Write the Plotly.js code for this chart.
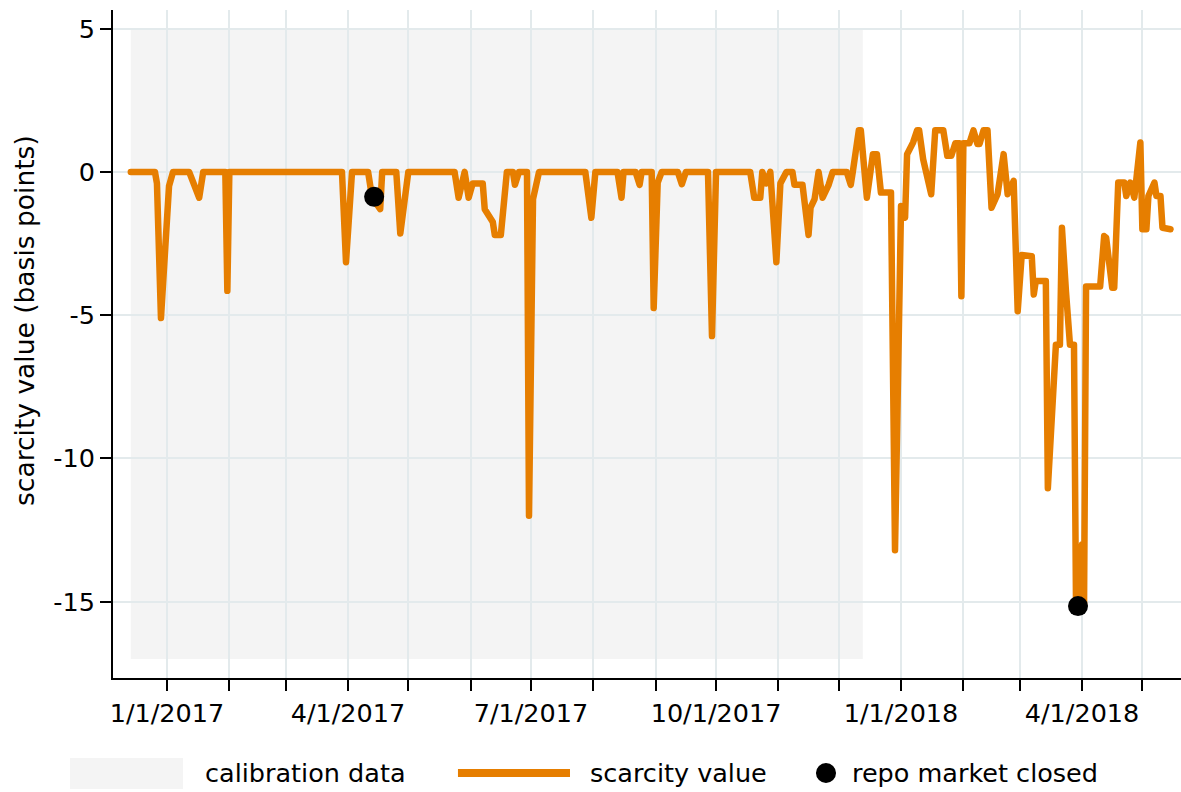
<!DOCTYPE html>
<html>
<head>
<meta charset="utf-8">
<script src="https://cdn.plot.ly/plotly-3.0.1.min.js"></script>
<style>html,body{margin:0;padding:0;background:#fff;}#chart{width:1181px;height:792px;}
.scatterlayer path.js-line{stroke-linejoin:round;stroke-linecap:round;}</style>
</head>
<body>
<div id="chart"></div>
<script>
// ---- data ----
const dates = [
'2016-12-14','2016-12-26','2016-12-27','2016-12-29','2017-01-02','2017-01-04','2017-01-12','2017-01-17','2017-01-19','2017-01-30',
'2017-01-31','2017-02-01','2017-03-29','2017-03-31','2017-04-03','2017-04-11','2017-04-13','2017-04-17','2017-04-18','2017-04-25',
'2017-04-27','2017-05-01','2017-05-24','2017-05-26','2017-05-29','2017-05-31','2017-06-02','2017-06-07','2017-06-08','2017-06-11',
'2017-06-12','2017-06-13','2017-06-16','2017-06-19','2017-06-22','2017-06-23','2017-06-25','2017-06-29','2017-06-30','2017-07-02',
'2017-07-05','2017-07-28','2017-07-31','2017-08-02','2017-08-13','2017-08-15','2017-08-16','2017-08-22','2017-08-24','2017-08-25',
'2017-08-30','2017-08-31','2017-09-02','2017-09-04','2017-09-12','2017-09-14','2017-09-16','2017-09-27','2017-09-29','2017-10-01',
'2017-10-18','2017-10-20','2017-10-23','2017-10-24','2017-10-26','2017-10-28','2017-10-31','2017-11-02','2017-11-05','2017-11-08',
'2017-11-09','2017-11-13','2017-11-16','2017-11-17','2017-11-19','2017-11-21','2017-11-23','2017-11-26','2017-11-28','2017-12-05',
'2017-12-07','2017-12-08','2017-12-11','2017-12-12','2017-12-15','2017-12-18','2017-12-20','2017-12-22','2017-12-27','2017-12-29',
'2018-01-01','2018-01-03','2018-01-04','2018-01-07','2018-01-09','2018-01-10','2018-01-12','2018-01-16','2018-01-18','2018-01-22',
'2018-01-24','2018-01-26','2018-01-28','2018-01-30','2018-01-31','2018-02-01','2018-02-04','2018-02-06','2018-02-08','2018-02-09',
'2018-02-11','2018-02-13','2018-02-15','2018-02-18','2018-02-21','2018-02-23','2018-02-26','2018-02-28','2018-03-02','2018-03-07',
'2018-03-08','2018-03-09','2018-03-14','2018-03-15','2018-03-17','2018-03-19','2018-03-21','2018-03-22','2018-03-24','2018-03-26',
'2018-03-28','2018-03-29','2018-03-30','2018-04-01','2018-04-02','2018-04-03','2018-04-10','2018-04-12','2018-04-13','2018-04-16',
'2018-04-17','2018-04-19','2018-04-22','2018-04-23','2018-04-25','2018-04-27','2018-04-30','2018-05-01','2018-05-03','2018-05-04',
'2018-05-07','2018-05-08','2018-05-10','2018-05-11','2018-05-15'
];
const scarcity = [
0,0,-0.4,-5.1,-0.5,0,0,-0.9,0,0,
-4.15,0,0,-3.15,0,0,-0.9,-1.3,0,0,
-2.15,0,0,-0.9,0,-0.9,-0.4,-0.4,-1.3,-1.65,
-1.75,-2.2,-2.2,0,0,-0.45,0,0,-12.0,-0.95,
0,0,-1.6,0,0,-0.9,0,0,-0.45,0,
0,-4.75,-0.37,0,0,-0.43,0,0,-5.73,0,
0,-0.9,-0.9,0,-0.4,0,-3.15,-0.4,0,0,
-0.45,-0.45,-2.2,-1.25,-0.95,0,-0.9,-0.45,0,0,
-0.45,0,1.45,1.45,-0.9,0.62,0.62,-0.72,-0.72,-13.2,
-1.19,-1.6,0.62,1.03,1.45,1.45,0.44,-0.78,1.45,1.45,
0.56,0.56,1.0,1.0,-4.34,1.0,1.0,1.45,0.97,0.97,
1.45,1.45,-1.25,-0.78,0.62,-0.78,-0.31,-4.86,-2.9,-2.94,
-4.28,-3.81,-3.81,-11.04,-8.0,-6.03,-6.03,-1.95,-4.16,-6.03,
-6.03,-15.1,-15.15,-13.0,-15.1,-4.0,-4.0,-2.24,-2.3,-4.04,
-4.04,-0.37,-0.37,-0.84,-0.37,-0.9,1.03,-2.0,-2.0,-0.84,
-0.37,-0.84,-0.84,-1.95,-2.0
];
const closedDates = ['2017-04-14','2018-03-30'];
const closedValues = [-0.87,-15.15];
const calibStart = '2016-12-14';
const calibEnd = '2017-12-13';
const calibLow = -17;
const calibHigh = 5;

const monthTicks = ['2017-01-01','2017-02-01','2017-03-01','2017-04-01','2017-05-01','2017-06-01','2017-07-01','2017-08-01',
  '2017-09-01','2017-10-01','2017-11-01','2017-12-01','2018-01-01','2018-02-01','2018-03-01','2018-04-01','2018-05-01'];
const monthTickText = ['1/1/2017','','','4/1/2017','','','7/1/2017','','','10/1/2017','','','1/1/2018','','','4/1/2018',''];
const yTicks = [5,0,-5,-10,-15];
const yTickText = ['5','0','-5','-10','-15'];

const legendLabels = ['calibration data','scarcity value','repo market closed'];
const yTitle = 'scarcity value (basis points)';

// ---- styles ----
const ORANGE = '#e67e00';
const FONT = 'DejaVu Sans, Liberation Sans, Arial, sans-serif';
const FS = 25.5;

const traces = [
  {x: dates, y: scarcity, type: 'scatter', mode: 'lines',
   line: {color: ORANGE, width: 6.5, shape: 'linear'}, showlegend: false, hoverinfo: 'skip'},
  {x: closedDates, y: closedValues, type: 'scatter', mode: 'markers',
   marker: {color: '#000', size: 20}, showlegend: false, hoverinfo: 'skip'}
];

const layout = {
  width: 1181, height: 792,
  margin: {l: 113, r: 0, t: 10, b: 114},
  paper_bgcolor: '#fff', plot_bgcolor: '#fff',
  font: {family: FONT, size: FS, color: '#000'},
  showlegend: false,
  xaxis: {
    type: 'date',
    range: ['2016-12-05 03:30', '2018-05-20 05:00'],
    tickmode: 'array', tickvals: monthTicks, ticktext: monthTickText,
    ticks: 'outside', ticklen: 11, tickwidth: 2, tickcolor: '#000',
    showgrid: true, gridcolor: '#e3eaec', gridwidth: 2,
    showline: true, linecolor: '#000', linewidth: 2,
    zeroline: false, tickfont: {family: FONT, size: FS, color: '#000'},
    fixedrange: true
  },
  yaxis: {
    range: [-17.66, 5.65],
    tickmode: 'array', tickvals: yTicks, ticktext: yTickText,
    ticks: 'outside', ticklen: 11, tickwidth: 2, tickcolor: '#000',
    showgrid: true, gridcolor: '#e3eaec', gridwidth: 2,
    showline: true, linecolor: '#000', linewidth: 2,
    zeroline: false, tickfont: {family: FONT, size: FS, color: '#000'},
    fixedrange: true
  },
  shapes: [
    {type: 'rect', layer: 'below', xref: 'x', yref: 'y', x0: calibStart, x1: calibEnd, y0: calibLow, y1: calibHigh,
     fillcolor: '#f4f4f4', line: {width: 0}},
    // legend swatches
    {type: 'rect', xref: 'paper', yref: 'paper', x0: -0.0403, x1: 0.0655, y0: -0.1662, y1: -0.1198,
     fillcolor: '#f4f4f4', line: {width: 0}},
    {type: 'line', xref: 'paper', yref: 'paper', x0: 0.3230, x1: 0.4279, y0: -0.1422, y1: -0.1422,
     line: {color: ORANGE, width: 8}},
    {type: 'circle', xref: 'paper', yref: 'paper', x0: 0.6582, x1: 0.6770, y0: -0.1572, y1: -0.1272,
     fillcolor: '#000', line: {width: 0}}
  ],
  annotations: [
    {text: yTitle, xref: 'paper', yref: 'paper', x: -0.0824, y: 0.536, textangle: -90,
     showarrow: false, xanchor: 'center', yanchor: 'middle', font: {family: FONT, size: 26.5, color: '#000'}},
    {text: legendLabels[0], xref: 'paper', yref: 'paper', x: 0.0843, y: -0.1422, xanchor: 'left', yanchor: 'middle',
     showarrow: false, font: {family: FONT, size: FS, color: '#000'}},
    {text: legendLabels[1], xref: 'paper', yref: 'paper', x: 0.4448, y: -0.1422, xanchor: 'left', yanchor: 'middle',
     showarrow: false, font: {family: FONT, size: FS, color: '#000'}},
    {text: legendLabels[2], xref: 'paper', yref: 'paper', x: 0.6901, y: -0.1422, xanchor: 'left', yanchor: 'middle',
     showarrow: false, font: {family: FONT, size: FS, color: '#000'}}
  ]
};

Plotly.newPlot('chart', traces, layout, {displayModeBar: false, staticPlot: true});
</script>
</body>
</html>
